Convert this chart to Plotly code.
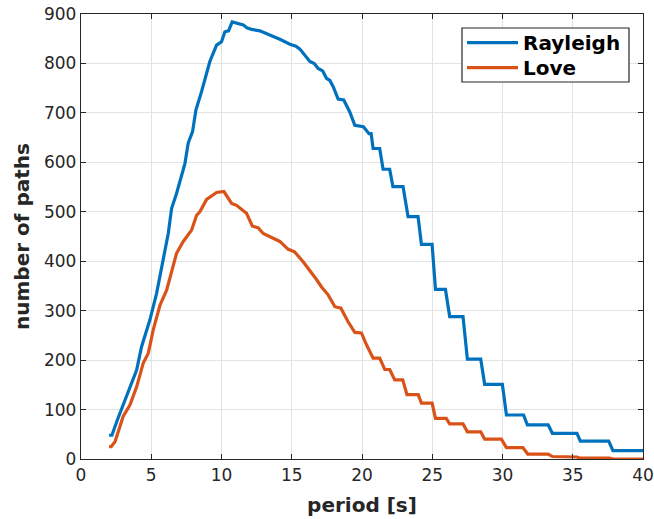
import plotly.graph_objects as go

# Number of usable paths per period, for the two surface-wave types
rayleigh_period = [2.0, 2.2, 2.6, 3.0, 3.48, 3.96, 4.31, 4.9, 5.38, 5.86, 6.21, 6.45, 6.8, 7.4,
                   7.63, 7.94, 8.18, 8.58, 8.94, 9.17, 9.65, 10.0, 10.24, 10.5, 10.76, 11.0,
                   11.55, 11.8, 12.14, 12.73, 13.44, 14.15, 14.87, 15.3, 15.58, 16.0, 16.29,
                   16.6, 16.88, 17.2, 17.47, 17.7, 17.95, 18.3, 18.7, 19.13, 19.49, 20.1, 20.5,
                   20.65, 20.79, 21.26, 21.5, 21.97, 22.2, 22.92, 23.28, 23.99, 24.23, 24.99,
                   25.23, 25.94, 26.24, 27.19, 27.5, 28.45, 28.73, 29.99, 30.28, 31.5, 31.77,
                   33.25, 33.55, 35.3, 35.54, 37.56, 37.86, 40.0]
rayleigh_paths = [48, 48, 80, 110, 143, 180, 227, 281, 335, 402, 456, 507, 537, 598,
                  639, 662, 706, 743, 777, 804, 837, 844, 864, 866, 884, 882,
                  878, 872, 869, 866, 858, 849, 839, 835, 829, 815, 804,
                  800, 790, 785, 770, 766, 753, 728, 726, 702, 675, 672, 658,
                  658, 628, 628, 586, 586, 551, 551, 490, 490, 434, 434,
                  343, 343, 288, 288, 202, 202, 151, 151, 89, 89, 69,
                  69, 52, 52, 36, 36, 17, 17]

love_period = [2.0, 2.15, 2.42, 3.0, 3.48, 3.96, 4.43, 4.79, 5.14, 5.62, 6.1, 6.45, 6.8, 7.28,
               7.63, 7.87, 8.23, 8.46, 8.94, 9.3, 9.65, 10.17, 10.72, 11.07, 11.78, 12.2, 12.6,
               12.97, 13.56, 14.15, 14.75, 15.2, 15.81, 16.29, 16.76, 17.12, 17.59, 18.07, 18.5,
               19.0, 19.49, 19.96, 20.32, 20.79, 21.26, 21.62, 21.97, 22.33, 22.9, 23.2, 24.0,
               24.23, 24.99, 25.23, 26.0, 26.24, 27.19, 27.5, 28.45, 28.73, 29.92, 30.28, 31.45,
               31.8, 33.25, 33.55, 35.3, 35.5, 37.6, 37.86, 40.0]
love_paths = [25, 25, 35, 86, 109, 146, 194, 214, 261, 311, 342, 382, 416, 440,
              453, 463, 493, 500, 525, 532, 539, 541, 517, 513, 497, 471, 468,
              456, 448, 440, 424, 419, 399, 382, 363, 348, 332, 308, 305,
              278, 256, 255, 231, 204, 204, 181, 181, 160, 160, 130, 130,
              113, 113, 82, 82, 71, 71, 55, 55, 40, 40, 23, 23,
              10, 10, 5, 4, 2, 2, 0, 0]

series_names = ["Rayleigh", "Love"]
series_colors = ["#0072BD", "#D95319"]

x_ticks = [0, 5, 10, 15, 20, 25, 30, 35, 40]
y_ticks = [0, 100, 200, 300, 400, 500, 600, 700, 800, 900]

FONT = "DejaVu Sans"
INK = "#262626"
GRID = "#e3e3e3"
LINE_W = 3.2

fig = go.Figure()
for xs, ys, name, color in zip([rayleigh_period, love_period], [rayleigh_paths, love_paths],
                               series_names, series_colors):
    fig.add_trace(go.Scatter(x=xs, y=ys, mode="lines", name=name,
                             line=dict(color=color, width=LINE_W)))

axis_common = dict(
    showline=True, linecolor=INK, linewidth=1.3, mirror="allticks",
    ticks="inside", ticklen=5, tickwidth=1, tickcolor=INK,
    showgrid=True, gridcolor=GRID, gridwidth=1, zeroline=False,
    tickfont=dict(family=FONT, size=17, color=INK), automargin=False,
)

fig.update_xaxes(range=[0, 40], tickvals=x_ticks, **axis_common,
                 title=dict(text="period [s]", standoff=14,
                            font=dict(family=FONT, size=20, color=INK, weight="bold")))
fig.update_yaxes(range=[0, 900], tickvals=y_ticks, **axis_common,
                 title=dict(text="number of paths", standoff=8,
                            font=dict(family=FONT, size=20, color=INK, weight="bold")))

# Boxed legend in the upper-right corner of the axes (paper coordinates)
W, H = 654, 519
L, R, T, B = 81, 11, 14, 60
pw, ph = W - L - R, H - T - B


def px_x(p):
    return (p - L) / pw


def px_y(p):
    return (H - B - p) / ph


fig.add_shape(type="rect", xref="paper", yref="paper",
              x0=px_x(462), x1=px_x(629), y0=px_y(82), y1=px_y(28),
              line=dict(color=INK, width=1.2), fillcolor="white", layer="above")
for i, (name, color) in enumerate(zip(series_names, series_colors)):
    yc = 42.7 + 25 * i
    fig.add_shape(type="line", xref="paper", yref="paper",
                  x0=px_x(467), x1=px_x(518), y0=px_y(yc), y1=px_y(yc),
                  line=dict(color=color, width=LINE_W), layer="above")
    fig.add_annotation(xref="paper", yref="paper", x=px_x(521), y=px_y(yc),
                       xanchor="left", yanchor="middle", showarrow=False, text=name,
                       font=dict(family=FONT, size=20, color="black", weight="bold"))

fig.update_layout(
    width=W, height=H,
    margin=dict(l=L, r=R, t=T, b=B),
    plot_bgcolor="white", paper_bgcolor="white",
    showlegend=False,
)

fig.write_html("out.html")
